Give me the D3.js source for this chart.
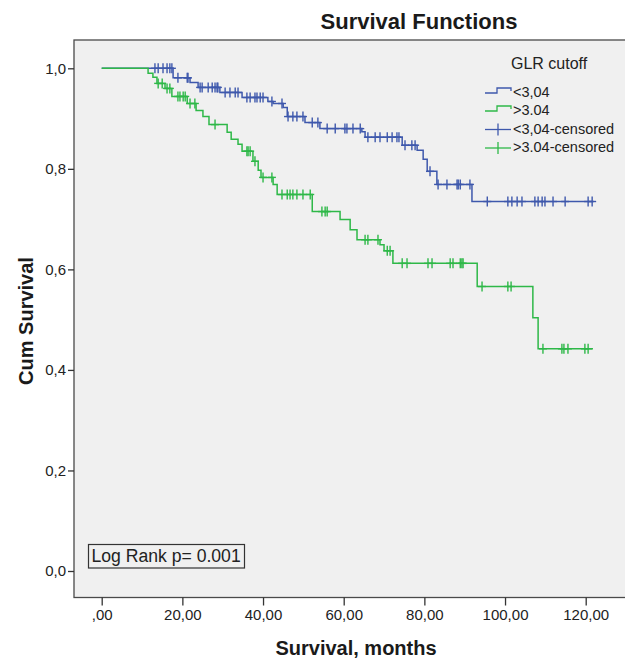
<!DOCTYPE html>
<html>
<head>
<meta charset="utf-8">
<script src="https://cdn.jsdelivr.net/npm/d3@7/dist/d3.min.js"></script>
<style>
  html, body { margin: 0; padding: 0; background: #ffffff; }
  svg { display: block; }
  text { font-family: "Liberation Sans", Arial, sans-serif; fill: #1a1a1a; }
</style>
</head>
<body>
<svg id="chart" width="625" height="658"></svg>
<script>
// ---------- DATA ----------
const seriesNames = ["<3,04", ">3.04", "<3,04-censored", ">3.04-censored"];
const legendTitle = "GLR cutoff";
const xTickValues = [0, 20, 40, 60, 80, 100, 120];
const xTickLabels = [",00", "20,00", "40,00", "60,00", "80,00", "100,00", "120,00"];
const yTickValues = [0, 0.2, 0.4, 0.6, 0.8, 1.0];
const yTickLabels = ["0,0", "0,2", "0,4", "0,6", "0,8", "1,0"];

// group <3,04 (blue): event times (months) and survival after each event
const lowEventTimes = [17.7, 21.9, 23.9, 29.3, 34.8, 41.2, 42.5, 45.0, 46.0, 50.4, 54.1, 64.5, 65.3, 74.5, 78.2, 79.7, 80.7, 83.1, 91.8];
const lowEventSurv  = [0.981, 0.972, 0.962, 0.952, 0.942, 0.934, 0.930, 0.922, 0.904, 0.892, 0.880, 0.874, 0.863, 0.847, 0.837, 0.819, 0.795, 0.769, 0.735];
const lowEndTime = 122.0;
const lowCensorTimes = [13.2, 14.0, 15.2, 16.2, 16.9, 17.4, 18.9, 21.2, 21.4, 24.4, 24.9, 26.4, 27.4, 28.1, 28.6, 28.8,
  30.6, 31.8, 33.1, 33.8, 36.0, 36.8, 38.0, 38.5, 39.3, 40.0, 42.2, 44.7, 46.2, 47.4, 48.4, 49.9, 52.2, 53.6, 55.9,
  57.9, 60.3, 60.8, 62.3, 64.1, 66.0, 67.8, 69.0, 70.8, 72.0, 73.2, 73.7, 75.2, 76.9, 77.7, 81.4, 83.4, 85.6, 88.1,
  88.4, 88.9, 91.3, 95.6, 100.7, 101.7, 103.0, 104.2, 107.4, 108.2, 109.2, 109.9, 111.9, 114.9, 120.6, 121.6];

// group >3.04 (green)
const highEventTimes = [11.5, 12.7, 13.7, 15.7, 17.4, 21.2, 23.4, 25.1, 26.6, 31.1, 32.1, 33.8, 34.8, 37.5, 38.8, 39.5, 42.5, 43.5, 52.2, 59.1, 61.6, 63.3, 69.0, 70.0, 72.2, 93.1, 106.9, 108.2];
const highEventSurv  = [0.990, 0.982, 0.970, 0.960, 0.944, 0.930, 0.916, 0.904, 0.888, 0.873, 0.859, 0.849, 0.835, 0.815, 0.797, 0.783, 0.769, 0.749, 0.715, 0.699, 0.679, 0.659, 0.649, 0.637, 0.612, 0.566, 0.504, 0.442];
const highEndTime = 121.8;
const highCensorTimes = [14.0, 15.0, 16.2, 16.9, 18.9, 19.4, 20.2, 20.7, 21.9, 23.1, 28.1, 36.0, 36.3, 36.8, 38.0,
  40.0, 42.2, 44.7, 46.0, 46.7, 47.4, 48.4, 49.9, 51.7, 54.6, 55.4, 55.9, 65.3, 66.0, 68.5, 70.8, 71.5, 74.5, 75.7,
  80.9, 81.9, 86.4, 87.1, 88.9, 89.3, 89.6, 94.3, 100.7, 101.5, 109.4, 114.1, 114.6, 115.6, 119.8, 120.6];

const colors = ["#3E58AC", "#2EB848"];
const logRankText = "Log Rank p= 0.001";

// ---------- LAYOUT ----------
const svg = d3.select("#chart");
const frame = { left: 74, top: 40, right: 640, bottom: 597.5 };
const x = d3.scaleLinear().domain([0, 120]).range([101.7, 585.7]);
const y = d3.scaleLinear().domain([0, 1]).range([571, 68.3]);

// plot background
svg.append("rect")
  .attr("x", frame.left).attr("y", frame.top)
  .attr("width", frame.right - frame.left).attr("height", frame.bottom - frame.top)
  .attr("fill", "#f0f0f0").attr("stroke", "#4a4a4a").attr("stroke-width", 1.3);

// title
svg.append("text").attr("x", 419).attr("y", 29).attr("text-anchor", "middle")
  .style("font-size", "22px").style("font-weight", "bold").text("Survival Functions");

// axes
const xAxis = d3.axisBottom(x).tickValues(xTickValues)
  .tickFormat((d, i) => xTickLabels[i]).tickSize(8).tickSizeOuter(0);
const gx = svg.append("g").attr("transform", `translate(0,${frame.bottom})`).call(xAxis);
gx.select(".domain").remove();
gx.selectAll(".tick line").attr("stroke", "#333").attr("stroke-width", 1.3);
gx.selectAll(".tick text").attr("y", 12).attr("dy", "0.71em")
  .style("font-size", "15px").style("fill", "#222");

const yAxis = d3.axisLeft(y).tickValues(yTickValues)
  .tickFormat((d, i) => yTickLabels[i]).tickSize(6).tickSizeOuter(0);
const gy = svg.append("g").attr("transform", `translate(${frame.left},0)`).call(yAxis);
gy.select(".domain").remove();
gy.selectAll(".tick line").attr("stroke", "#333").attr("stroke-width", 1.3);
gy.selectAll(".tick text").attr("x", -8)
  .style("font-size", "15px").style("fill", "#222");

// axis titles
svg.append("text").attr("transform", "translate(33,321) rotate(-90)")
  .attr("text-anchor", "middle").style("font-size", "20px").style("font-weight", "bold")
  .text("Cum Survival");
svg.append("text").attr("x", 356).attr("y", 655).attr("text-anchor", "middle")
  .style("font-size", "20px").style("font-weight", "bold").text("Survival, months");

// ---------- CURVES ----------
function stepPoints(times, surv, endT) {
  const pts = [[0, 1]];
  times.forEach((t, i) => pts.push([t, surv[i]]));
  pts.push([endT, surv[surv.length - 1]]);
  return pts;
}
function levelAt(t, times, surv) {
  let s = 1;
  for (let i = 0; i < times.length; i++) { if (times[i] <= t) s = surv[i]; }
  return s;
}
const line = d3.line().x(d => x(d[0])).y(d => y(d[1])).curve(d3.curveStepAfter);

const groups = [
  { times: lowEventTimes, surv: lowEventSurv, end: lowEndTime, cens: lowCensorTimes, color: colors[0] },
  { times: highEventTimes, surv: highEventSurv, end: highEndTime, cens: highCensorTimes, color: colors[1] }
];

groups.forEach(g => {
  svg.append("path").datum(stepPoints(g.times, g.surv, g.end))
    .attr("d", line).attr("fill", "none").attr("stroke", g.color).attr("stroke-width", 1.5);
  const cg = svg.append("g");
  g.cens.forEach(t => {
    const cx = x(t), cy = y(levelAt(t, g.times, g.surv));
    cg.append("line").attr("x1", cx).attr("x2", cx).attr("y1", cy - 5).attr("y2", cy + 5)
      .attr("stroke", g.color).attr("stroke-width", 1.4);
    cg.append("line").attr("x1", cx - 4).attr("x2", cx + 4).attr("y1", cy).attr("y2", cy)
      .attr("stroke", g.color).attr("stroke-width", 1.4);
  });
});

// ---------- LEGEND ----------
svg.append("text").attr("x", 511).attr("y", 69).style("font-size", "16px").style("fill", "#222").text(legendTitle);
const legY = [93, 111, 129.5, 148];
[0, 1].forEach(i => {
  const yy = legY[i];
  svg.append("path")
    .attr("d", `M485,${yy} H497 V${yy - 5} H511 V${yy - 2}`)
    .attr("fill", "none").attr("stroke", colors[i]).attr("stroke-width", 1.3);
});
[2, 3].forEach(i => {
  const yy = legY[i];
  const c = colors[i - 2];
  svg.append("line").attr("x1", 485).attr("x2", 511).attr("y1", yy).attr("y2", yy)
    .attr("stroke", c).attr("stroke-width", 1.3);
  svg.append("line").attr("x1", 498).attr("x2", 498).attr("y1", yy - 6).attr("y2", yy + 6)
    .attr("stroke", c).attr("stroke-width", 1.3);
});
seriesNames.forEach((n, i) => {
  svg.append("text").attr("x", 513).attr("y", legY[i] + 4).style("font-size", "14.5px")
    .style("fill", "#222").text(n);
});

// ---------- LOG RANK BOX ----------
svg.append("rect").attr("x", 88.5).attr("y", 544.5).attr("width", 156).attr("height", 23.5)
  .attr("fill", "#f0f0f0").attr("stroke", "#333").attr("stroke-width", 1.2);
svg.append("text").attr("x", 91.5).attr("y", 562).style("font-size", "17.6px").style("fill", "#222")
  .text(logRankText);
</script>
</body>
</html>
